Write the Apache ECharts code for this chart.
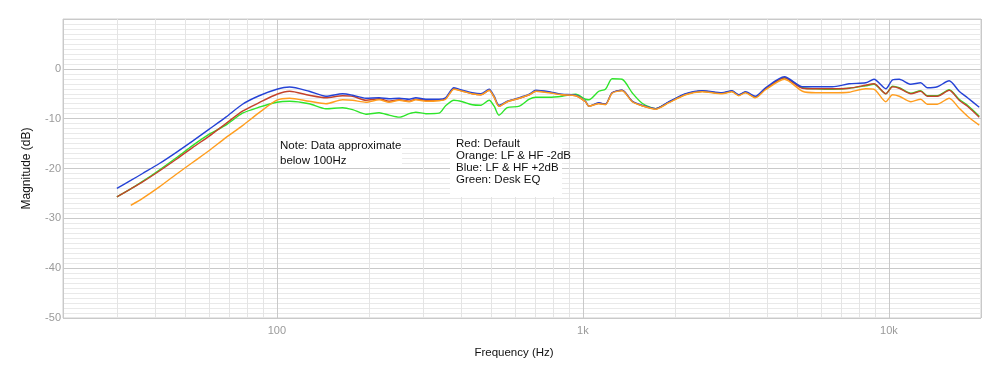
<!DOCTYPE html>
<html>
<head>
<meta charset="utf-8">
<script src="https://cdn.jsdelivr.net/npm/echarts@6/dist/echarts.min.js"></script>
<style>
html,body{margin:0;padding:0;background:#fff;}
#chart{width:1000px;height:387px;}
</style>
</head>
<body>
<div id="chart"></div>
<script>
// Frequencies (Hz)
const freqs = [30, 33.3, 36.4, 41.3, 46.8, 53, 60.1, 68.1, 77.2, 87.5, 100, 110, 127.5, 144.6, 163.9, 176.8, 195.4, 215.9, 232.7, 251, 270.6, 284.5, 306.8, 338.6, 356, 379, 404, 435, 464, 494, 513, 532, 566, 620, 668, 702, 775, 855, 948, 1020, 1046, 1127, 1185, 1246, 1343, 1449, 1562, 1728, 1911, 2166, 2454, 2848, 3070, 3228, 3396, 3662, 3953, 4556, 5220, 5770, 6540, 7412, 8400, 8940, 9775, 10280, 10810, 11800, 12700, 13360, 14400, 15740, 16970, 18070, 19740];

// Magnitudes (dB)
const blue = [-24.0, -22.4, -21.0, -19.0, -16.8, -14.5, -12.1, -9.7, -7.1, -5.4, -4.1, -3.65, -4.5, -5.5, -5.0, -5.3, -5.9, -5.8, -6.0, -5.9, -6.1, -5.8, -6.1, -6.1, -5.8, -3.8, -4.3, -4.8, -5.0, -4.1, -5.5, -7.3, -6.5, -5.8, -5.1, -4.3, -4.6, -5.1, -5.3, -6.5, -7.5, -6.8, -7.1, -4.8, -4.3, -6.5, -7.3, -8.0, -6.6, -5.0, -4.4, -4.8, -4.4, -5.2, -4.6, -5.5, -3.8, -1.6, -3.6, -3.6, -3.6, -3.0, -2.8, -2.1, -4.0, -2.2, -2.1, -3.1, -2.8, -3.8, -3.6, -2.4, -4.5, -5.8, -7.7];
const red = [-25.7, -24.1, -22.7, -20.5, -18.2, -15.8, -13.5, -11.0, -8.5, -6.8, -5.1, -4.5, -5.3, -5.8, -5.4, -5.5, -6.3, -6.0, -6.5, -6.2, -6.5, -6.1, -6.3, -6.3, -6.0, -4.0, -4.5, -5.0, -5.2, -4.3, -5.7, -7.5, -6.6, -5.9, -5.2, -4.5, -4.7, -5.2, -5.4, -6.6, -7.5, -6.9, -7.1, -4.8, -4.3, -6.5, -7.4, -8.0, -6.7, -5.1, -4.5, -4.9, -4.5, -5.3, -4.7, -5.7, -4.0, -1.8, -3.9, -4.0, -4.0, -3.9, -3.3, -3.0, -5.0, -3.6, -3.9, -5.0, -4.5, -5.5, -5.5, -4.3, -6.3, -7.5, -9.7];
const orange = [null, -27.4, -26.0, -23.7, -21.2, -18.8, -16.4, -13.8, -11.4, -8.8, -6.3, -5.9, -6.5, -7.0, -6.2, -6.3, -6.7, -6.2, -6.7, -6.3, -6.6, -6.2, -6.5, -6.4, -6.1, -4.1, -4.5, -5.0, -5.2, -4.3, -5.7, -7.5, -6.6, -5.9, -5.2, -4.5, -4.8, -5.2, -5.4, -6.6, -7.5, -7.0, -7.2, -4.9, -4.4, -6.6, -7.4, -8.1, -6.8, -5.2, -4.6, -5.0, -4.6, -5.4, -4.8, -5.8, -4.2, -2.1, -4.5, -4.8, -4.8, -4.7, -4.0, -4.1, -6.6, -5.2, -5.5, -6.6, -6.1, -7.1, -7.1, -5.9, -7.9, -9.5, -11.3];
const green = [-25.7, -24.1, -22.6, -20.3, -17.9, -15.4, -13.1, -11.3, -8.9, -7.7, -6.7, -6.5, -7.0, -8.0, -7.8, -8.2, -9.1, -8.8, -9.3, -9.7, -9.0, -8.7, -9.0, -8.9, -7.4, -6.3, -6.6, -7.2, -7.3, -6.3, -7.5, -9.3, -7.8, -7.5, -6.1, -5.7, -5.7, -5.5, -5.1, -6.1, -6.2, -4.5, -4.1, -2.0, -2.1, -4.8, -6.9, -8.0, -6.7, -5.1, -4.5, -4.9, -4.5, -5.3, -4.7, -5.7, -4.0, -1.8, -3.8, -4.0, -4.1, -3.9, -3.4, -3.1, -5.0, -3.5, -3.8, -4.9, -4.4, -5.4, -5.4, -4.2, -6.1, -7.3, -9.5];

// Minor vertical grid frequencies
const minorFreqs = [30, 40, 50, 60, 70, 80, 90, 200, 300, 400, 500, 600, 700, 800, 900, 2000, 3000, 4000, 5000, 6000, 7000, 8000, 9000];
const xTickLabels = {100: '100', 1000: '1k', 10000: '10k'};

const pairs = (vals) => freqs.map((f, i) => [f, vals[i]]).filter(p => p[1] !== null);

const chart = echarts.init(document.getElementById('chart'), null, {renderer: 'canvas'});
const font = '"Liberation Sans", Arial, Helvetica, sans-serif';

const lineSeries = (name, vals, color) => ({
  name, type: 'line', data: pairs(vals), showSymbol: false, symbol: 'none',
  smooth: 0.25, lineStyle: {color, width: 1.4}, itemStyle: {color}, z: 3, silent: true
});

chart.setOption({
  animation: false,
  backgroundColor: '#ffffff',
  grid: {left: 63, right: 19, top: 19, bottom: 69, show: true, borderColor: '#cfcfcf', borderWidth: 1, containLabel: false},
  xAxis: {
    type: 'log', logBase: 10, min: 20, max: 20000,
    name: 'Frequency (Hz)', nameLocation: 'middle', nameGap: 29,
    nameTextStyle: {color: '#111', fontSize: 11.5, fontFamily: font, padding: [0, 16, 0, 0]},
    axisLine: {show: false}, axisTick: {show: false},
    axisLabel: {color: '#9a9a9a', fontSize: 11, fontFamily: font, margin: 7,
      formatter: (v) => xTickLabels[Math.round(v)] || ''},
    splitLine: {show: true, lineStyle: {color: '#c9c9c9', width: 1}}
  },
  yAxis: {
    type: 'value', min: -50, max: 10, interval: 10,
    name: 'Magnitude (dB)', nameLocation: 'middle', nameGap: 30, nameRotate: 90,
    nameTextStyle: {color: '#111', fontSize: 12, fontFamily: font},
    axisLine: {show: false}, axisTick: {show: false},
    axisLabel: {color: '#9a9a9a', fontSize: 11, fontFamily: font, margin: 2,
      formatter: (v) => v >= 10 ? '' : String(v)},
    splitLine: {show: true, lineStyle: {color: '#c9c9c9', width: 1}},
    minorTick: {show: false, splitNumber: 10},
    minorSplitLine: {show: true, lineStyle: {color: '#e9e9e9', width: 1}}
  },
  series: [
    {
      type: 'line', data: [], silent: true, z: 1,
      markLine: {
        silent: true, symbol: 'none', z: 1, animation: false,
        label: {show: false},
        lineStyle: {color: '#e4e4e4', type: 'solid', width: 1},
        data: minorFreqs.map(f => ({xAxis: f}))
      }
    },
    lineSeries('Green', green, '#2ee52a'),
    lineSeries('Red', red, '#c4422b'),
    lineSeries('Blue', blue, '#2543d6'),
    lineSeries('Orange', orange, '#ff9d1e')
  ],
  graphic: [
    {
      type: 'rect', z: 10, shape: {x: 278, y: 137, width: 124, height: 30},
      style: {fill: '#ffffff'}
    },
    {
      type: 'text', z: 11, x: 280, y: 139,
      style: {text: 'Note: Data approximate\nbelow 100Hz', font: '11.5px ' + font, fill: '#111', lineHeight: 14.5}
    },
    {
      type: 'rect', z: 10, shape: {x: 450, y: 137, width: 112, height: 60},
      style: {fill: '#ffffff'}
    },
    {
      type: 'text', z: 11, x: 456, y: 138,
      style: {text: 'Red: Default\nOrange: LF & HF -2dB\nBlue: LF & HF +2dB\nGreen: Desk EQ', font: '11.5px ' + font, fill: '#111', lineHeight: 12}
    }
  ]
});
</script>
</body>
</html>
